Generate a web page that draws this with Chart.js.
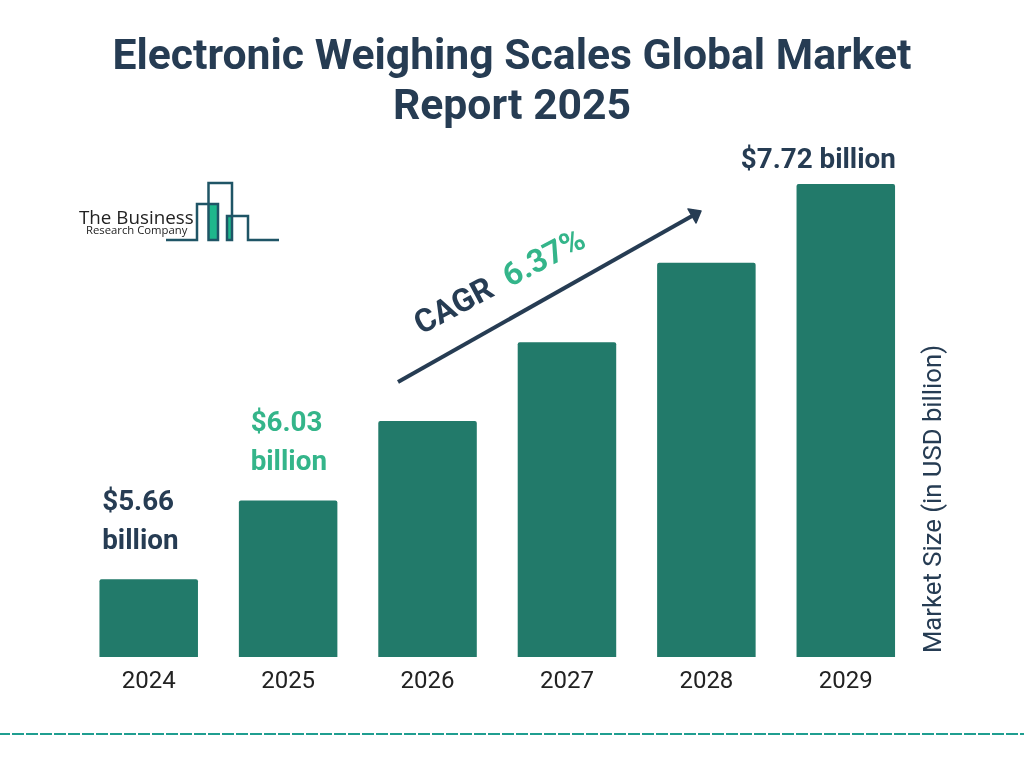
<!DOCTYPE html>
<html>
<head>
<meta charset="utf-8">
<title>Electronic Weighing Scales Global Market Report 2025</title>
<script src="https://cdn.jsdelivr.net/npm/chart.js@4/dist/chart.umd.min.js"></script>
<style>
    html, body { margin: 0; padding: 0; background: #fff; }
    #page { position: relative; width: 1024px; height: 768px; overflow: hidden; font-family: Roboto, sans-serif; color: #263c53; }
    #chart { position: absolute; left: 0; top: 0; }
    #deco { position: absolute; left: 0; top: 0; }
    .abs { position: absolute; white-space: nowrap; }
    #title { left: 0; top: 29px; width: 1024px; text-align: center; font-size: 42.7px; font-weight: 700; line-height: 50px; }
    #cagr { left: 416px; top: 306px; font-size: 32px; font-weight: 700; transform-origin: 0 50%; transform: rotate(-28deg); }
    #cagr span { color: #34b58a; margin-left: 8px; }
    #axis-title { left: 932px; top: 499px; font-size: 25.7px; transform: translate(-50%, -50%) rotate(-90deg); }
    #logo1 { left: 79px; top: 204px; font-family: "Open Sans", sans-serif; font-size: 18.8px; font-weight: 400; color: #222; }
    #logo2 { left: 86px; top: 222px; font-family: "Open Sans", sans-serif; font-size: 11.3px; font-weight: 400; color: #222; }
</style>
</head>
<body>
<div id="page">
    <canvas id="chart" width="1024" height="768"></canvas>
    <svg id="deco" width="1024" height="768">
        <!-- logo -->
        <rect x="209" y="204" width="9" height="36" fill="#1fb78c"/>
        <rect x="227" y="216" width="5" height="24" fill="#1fb78c"/>
        <path d="M166 240 H197 V204 H218 V240 H208.5 V183 H232 V240 H227 V216 H248 V240 H279" fill="none" stroke="#1f5566" stroke-width="2.5"/>
        <!-- arrow -->
        <line x1="398" y1="382" x2="692" y2="216" stroke="#263c53" stroke-width="4"/>
        <path d="M688 209 L701 211 L696 223 Z" fill="#263c53" stroke="#263c53" stroke-width="1.5" stroke-linejoin="round"/>
        <!-- bottom rule -->
        <line x1="-2" y1="734" x2="1024" y2="734" stroke="#1f9e90" stroke-width="2" stroke-dasharray="12 2"/>
    </svg>
    <div class="abs" id="title">Electronic Weighing Scales Global Market<br>Report 2025</div>
    <div class="abs" id="cagr">CAGR <span>6.37%</span></div>
    <div class="abs" id="axis-title">Market Size (in USD billion)</div>
    <div class="abs" id="logo1">The Business</div>
    <div class="abs" id="logo2">Research Company</div>
</div>
<script>
// --- Data ---
const years = ['2024', '2025', '2026', '2027', '2028', '2029'];
// the bars in the picture are evenly stepped
const marketSize = [5.66, 6.07, 6.485, 6.895, 7.31, 7.72];
const valueLabels = [['$5.66', 'billion'], ['$6.03', 'billion'], [], [], [], ['$7.72 billion']];

const DARK = '#263c53';
const GREEN = '#34b58a';

// --- Labels above bars ---
const labelStyle = [
    { dx: -46.5, gap: 40, color: DARK, align: 'left' },
    { dx: -37.5, gap: 40, color: GREEN, align: 'left' },
    null, null, null,
    { dx: -27.5, gap: 26, color: DARK, align: 'center' }
];

const barLabels = {
    id: 'barLabels',
    afterDatasetsDraw(chart) {
        const ctx = chart.ctx;
        const bars = chart.getDatasetMeta(0).data;
        ctx.save();
        ctx.font = '700 27.8px Roboto, sans-serif';
        ctx.textBaseline = 'alphabetic';
        bars.forEach((bar, i) => {
            const lines = valueLabels[i];
            const st = labelStyle[i];
            if (!st) return;
            ctx.fillStyle = st.color;
            ctx.textAlign = st.align;
            lines.forEach((line, n) => {
                // gap is to the middle of the last line, 10 is half the cap height
                const y = bar.y - st.gap + 10 - (lines.length - 1 - n) * 39;
                ctx.fillText(line, bar.x + st.dx, y);
            });
        });
        ctx.restore();
    }
};

new Chart(document.getElementById('chart'), {
    type: 'bar',
    data: {
        labels: years,
        datasets: [{
            data: marketSize,
            backgroundColor: '#227a6a',
            borderRadius: 2,
            borderSkipped: 'bottom',
            categoryPercentage: 1,
            barPercentage: 0.7066
        }]
    },
    options: {
        responsive: false,
        animation: false,
        devicePixelRatio: 1,
        layout: { padding: { left: 79, right: 108.5, top: 184, bottom: 0 } },
        plugins: { legend: { display: false }, tooltip: { enabled: false } },
        scales: {
            x: {
                grid: { display: false },
                border: { display: false },
                ticks: { color: '#222', font: { family: 'Roboto', size: 24 }, padding: 3, maxRotation: 0 },
                afterFit: s => { s.height = 111; }
            },
            y: { display: false, min: 5.254, max: 7.72 }
        }
    },
    plugins: [barLabels]
});
</script>
</body>
</html>
